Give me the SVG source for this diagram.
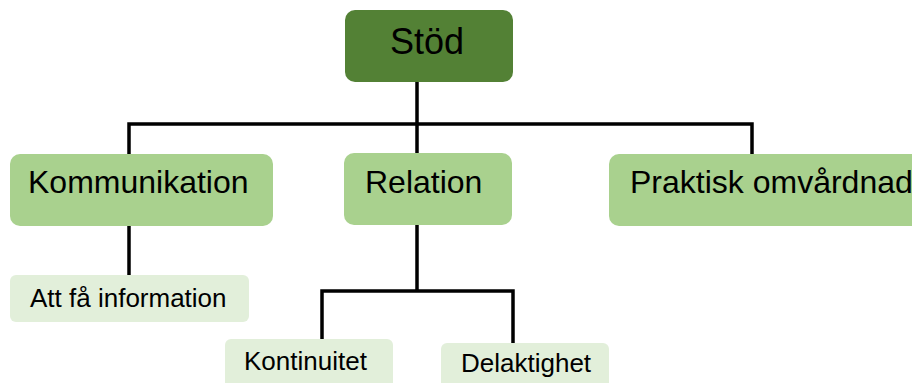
<svg xmlns="http://www.w3.org/2000/svg" width="912" height="383" viewBox="0 0 912 383">
<style>
text{font-family:"Liberation Sans",Arial,sans-serif;fill:#000}
.l1{fill:#538135}
.l2{fill:#a9d18e}
.l3{fill:#e2efda}
.t1{font-size:36px}
.t2{font-size:32px}
.t3{font-size:26px}
.c{fill:none;stroke:#000;stroke-width:3.5;stroke-linejoin:miter;stroke-linecap:square}
</style>
<rect width="912" height="383" fill="#fff"/>
<g id="connectors">
<path class="c" d="M417 82V124M129 153V124H752V153M417 124V153"/>
<path class="c" d="M129 226V274"/>
<path class="c" d="M417 226V291M322 338V291H513V342"/>
</g>
<g id="stod"><rect class="l1" x="345" y="10" width="168" height="72" rx="10"/><text class="t1" x="390" y="54">Stöd</text></g>
<g id="kommunikation"><rect class="l2" x="10" y="154" width="263" height="72" rx="10"/><text class="t2" x="28" y="193">Kommunikation</text></g>
<g id="relation"><rect class="l2" x="344" y="153" width="168" height="72" rx="10"/><text class="t2" x="365" y="193">Relation</text></g>
<g id="praktisk"><rect class="l2" x="609" y="154" width="320" height="72" rx="10"/><text class="t2" x="630" y="193">Praktisk omvårdnad</text></g>
<g id="att-fa-information"><rect class="l3" x="10" y="275" width="239" height="47" rx="6"/><text class="t3" x="30" y="307">Att få information</text></g>
<g id="kontinuitet"><rect class="l3" x="225" y="339" width="168" height="60" rx="6"/><text class="t3" x="244" y="370">Kontinuitet</text></g>
<g id="delaktighet"><rect class="l3" x="441" y="343" width="168" height="60" rx="6"/><text class="t3" x="461" y="372">Delaktighet</text></g>
</svg>
